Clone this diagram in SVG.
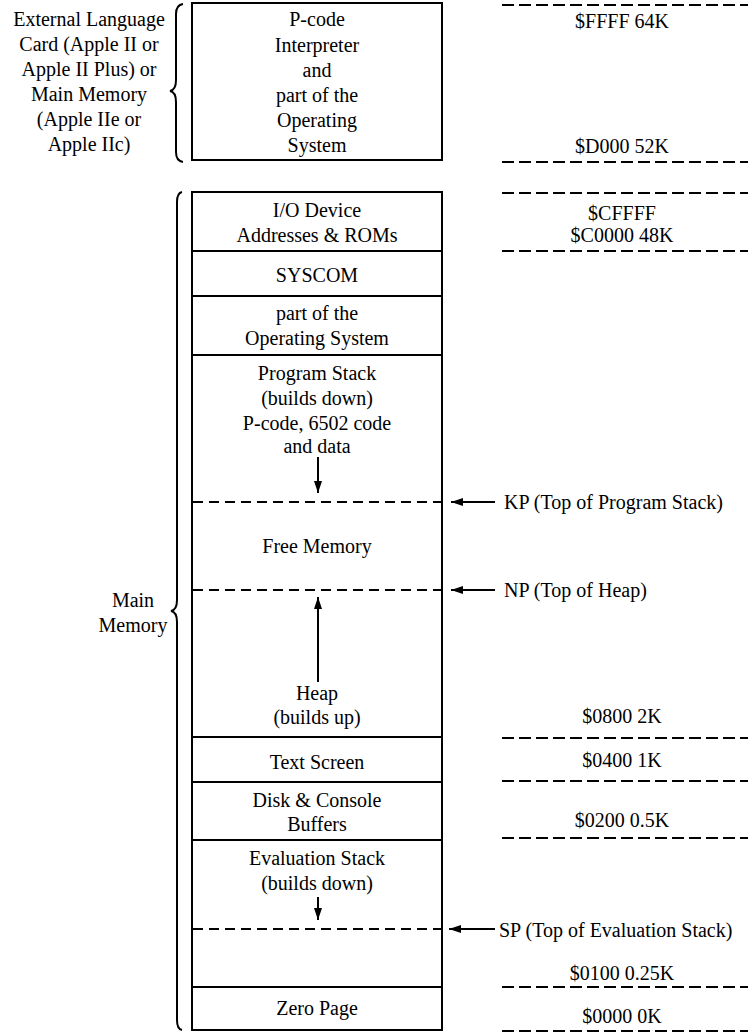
<svg xmlns="http://www.w3.org/2000/svg" width="748" height="1032" viewBox="0 0 748 1032" font-family="'Liberation Serif', 'DejaVu Serif', serif">
<style>
text{font-family:'Liberation Serif','DejaVu Serif',serif;font-size:20px;fill:#000;text-anchor:middle}
.l{text-anchor:start}
.box{fill:#fff;stroke:#000;stroke-width:2}
.div{stroke:#000;stroke-width:2}
.dash{stroke:#000;stroke-width:2;stroke-dasharray:12 5}
.idash{stroke:#000;stroke-width:1.8;stroke-dasharray:10 6}
.brace{fill:none;stroke:#000;stroke-width:2}
.arr{stroke:#000;stroke-width:2;marker-end:url(#ah)}
</style>
<defs>
<marker id="ah" viewBox="0 0 12 8" refX="12" refY="4" markerWidth="12" markerHeight="8" markerUnits="userSpaceOnUse" orient="auto">
<path d="M0,0 L12,4 L0,8 z" fill="#000"/>
</marker>
</defs>

<g id="brace-top">
<path class="brace" d="M183,4 Q176,5 176,14 L176,80 Q176,90 170,91 Q176,92 176,102 L176,152 Q176,161 183,162"/>
<text x="89" y="26">External Language</text>
<text x="89" y="51">Card (Apple II or</text>
<text x="89" y="76">Apple II Plus) or</text>
<text x="89" y="101">Main Memory</text>
<text x="89" y="126">(Apple IIe or</text>
<text x="89" y="151">Apple IIc)</text>
</g>

<g id="brace-main">
<path class="brace" d="M182,192 Q177,193 177,202 L177,600 Q177,610 171,611 Q177,612 177,622 L177,1020 Q177,1029 182,1030"/>
<text x="133" y="607">Main</text>
<text x="133" y="632">Memory</text>
</g>

<g id="top-box">
<rect class="box" x="192" y="3" width="250" height="157"/>
<text x="317" y="26">P-code</text>
<text x="317" y="52">Interpreter</text>
<text x="317" y="77">and</text>
<text x="317" y="102">part of the</text>
<text x="317" y="127">Operating</text>
<text x="317" y="152">System</text>
</g>

<g id="main-box">
<rect class="box" x="192" y="192" width="250" height="838"/>
</g>

<g id="io">
<text x="317" y="217">I/O Device</text>
<text x="317" y="242">Addresses &amp; ROMs</text>
<line class="div" x1="192" y1="251" x2="442" y2="251"/>
</g>
<g id="syscom">
<text x="317" y="282">SYSCOM</text>
<line class="div" x1="192" y1="296" x2="442" y2="296"/>
</g>
<g id="os">
<text x="317" y="320">part of the</text>
<text x="317" y="345">Operating System</text>
<line class="div" x1="192" y1="355" x2="442" y2="355"/>
</g>
<g id="program-stack">
<text x="317" y="380">Program Stack</text>
<text x="317" y="405">(builds down)</text>
<text x="317" y="430">P-code, 6502 code</text>
<text x="317" y="453">and data</text>
</g>
<g id="free-memory">
<text x="317" y="553">Free Memory</text>
</g>
<g id="heap">
<text x="317" y="700">Heap</text>
<text x="317" y="724">(builds up)</text>
<line class="div" x1="192" y1="737" x2="442" y2="737"/>
</g>
<g id="text-screen">
<text x="317" y="769">Text Screen</text>
<line class="div" x1="192" y1="782" x2="442" y2="782"/>
</g>
<g id="buffers">
<text x="317" y="807">Disk &amp; Console</text>
<text x="317" y="831">Buffers</text>
<line class="div" x1="192" y1="840" x2="442" y2="840"/>
</g>
<g id="eval-stack">
<text x="317" y="865">Evaluation Stack</text>
<text x="317" y="890">(builds down)</text>
<line class="div" x1="192" y1="987" x2="442" y2="987"/>
</g>
<g id="zero-page">
<text x="317" y="1015">Zero Page</text>
</g>

<g id="addresses">
<text x="622" y="28">$FFFF 64K</text>
<text x="622" y="153">$D000 52K</text>
<text x="622" y="220">$CFFFF</text>
<text x="622" y="242">$C0000 48K</text>
<text x="622" y="723">$0800 2K</text>
<text x="622" y="767">$0400 1K</text>
<text x="622" y="827">$0200 0.5K</text>
<text x="622" y="980">$0100 0.25K</text>
<text x="622" y="1023">$0000 0K</text>
</g>

<g id="pointers">
<text class="l" x="504" y="509">KP (Top of Program Stack)</text>
<text class="l" x="504" y="597">NP (Top of Heap)</text>
<text class="l" x="499" y="937">SP (Top of Evaluation Stack)</text>
</g>

<g id="connectors">
<line class="dash" x1="502" y1="5" x2="748" y2="5"/>
<line class="dash" x1="502" y1="162" x2="748" y2="162"/>
<line class="dash" x1="502" y1="193" x2="748" y2="193"/>
<line class="dash" x1="502" y1="251" x2="748" y2="251"/>
<line class="dash" x1="502" y1="738" x2="748" y2="738"/>
<line class="dash" x1="502" y1="781" x2="748" y2="781"/>
<line class="dash" x1="502" y1="838" x2="748" y2="838"/>
<line class="dash" x1="502" y1="987" x2="748" y2="987"/>
<line class="dash" x1="502" y1="1031" x2="748" y2="1031"/>
<line class="idash" x1="193" y1="502" x2="441" y2="502"/>
<line class="idash" x1="193" y1="590" x2="441" y2="590"/>
<line class="idash" x1="193" y1="929" x2="441" y2="929"/>
<line class="arr" x1="318" y1="457" x2="318" y2="493"/>
<line class="arr" x1="318" y1="682" x2="318" y2="597"/>
<line class="arr" x1="318" y1="897" x2="318" y2="920"/>
<line class="arr" x1="495" y1="502" x2="451" y2="502"/>
<line class="arr" x1="495" y1="590" x2="451" y2="590"/>
<line class="arr" x1="495" y1="929" x2="449" y2="929"/>
</g>
</svg>
